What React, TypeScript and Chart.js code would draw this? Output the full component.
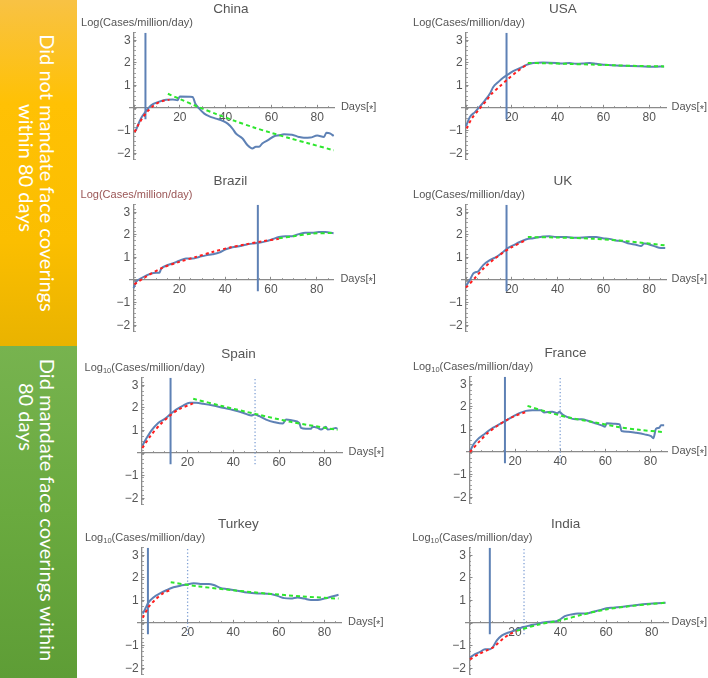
import React, { useEffect, useRef } from "react";
import { Chart, registerables } from "chart.js";

Chart.register(...registerables);

const FONT = "'Liberation Sans', Arial, Helvetica, sans-serif";
const BLUE = "#5E81B5";
const RED = "#FF1E1E";
const GREEN = "#2EE62E";
const DOTTED = "#7E9FD4";
const AXIS = "#8a8a8a";
const TEXT = "#555555";

const X_MIN = -1.7;
const X_MAX = 87.5;
const Y_MIN = -2.27;
const Y_MAX = 3.33;
const V_LINE_BOTTOM = -0.5;

// ---------- China ----------
const chinaDays = [0.7, 3.2, 4.9, 7.5, 10.4, 14, 17, 19, 20, 25.6, 26.8, 28.5, 30.7, 32.9, 35.8, 38.7, 40.9, 43, 44.5, 47.4, 49.6, 51.7, 53.2, 54.6, 56, 58.3, 61.2, 63.3, 65.5, 69, 72, 74.2, 77, 80, 83, 84, 85.8, 87.2];
const chinaVals = [-1.01, -0.43, -0.18, 0.12, 0.26, 0.37, 0.38, 0.34, 0.51, 0.49, 0.19, -0.03, -0.25, -0.37, -0.47, -0.57, -0.69, -0.91, -1.13, -1.35, -1.65, -1.79, -1.72, -1.72, -1.57, -1.43, -1.25, -1.21, -1.16, -1.18, -1.28, -1.32, -1.31, -1.22, -1.28, -1.09, -1.13, -1.24];
const chinaRedDays = [0.3, 2, 4, 6, 8, 10, 12.5, 15.5];
const chinaRedVals = [-1.06, -0.72, -0.4, -0.14, 0.06, 0.2, 0.31, 0.37];
const chinaGreenDays = [14.8, 20, 28, 36, 44, 52, 60, 68, 76, 87.2];
const chinaGreenVals = [0.63, 0.4, 0.05, -0.27, -0.57, -0.85, -1.1, -1.34, -1.56, -1.87];

// ---------- USA ----------
const usaDays = [0, 1.7, 3.9, 6.1, 8.3, 10.4, 11.9, 14.1, 16.2, 18.4, 20.6, 23.5, 26.4, 29.3, 33.6, 39.4, 42, 45.2, 48, 51, 54, 56.8, 61, 68.4, 75.7, 81.4, 86.5];
const usaVals = [-0.81, -0.4, -0.18, 0.07, 0.34, 0.63, 0.93, 1.15, 1.34, 1.49, 1.63, 1.76, 1.91, 1.99, 2.01, 1.99, 1.97, 1.99, 1.96, 1.97, 1.99, 1.96, 1.91, 1.87, 1.85, 1.82, 1.84];
const usaRedDays = [0.3, 2.5, 5.4, 9, 11.2, 14.8, 18.4, 22, 27.1];
const usaRedVals = [-0.91, -0.47, -0.1, 0.34, 0.63, 0.96, 1.29, 1.59, 1.96];
const usaGreenDays = [27, 35, 45, 55, 65, 75, 86.5];
const usaGreenVals = [1.99, 1.98, 1.95, 1.92, 1.89, 1.86, 1.84];

// ---------- Brazil ----------
const brazilDays = [0, 1.2, 3.3, 5.5, 7.7, 9.9, 11.3, 12, 14.2, 17.1, 20, 22.9, 25.8, 28.7, 31.6, 34.5, 37.4, 40.3, 43.2, 46.1, 49, 51.9, 54.8, 57.7, 60.6, 63.5, 66.4, 69.3, 72.2, 75, 78, 80.9, 83.8, 87.4];
const brazilVals = [-0.36, -0.07, 0.07, 0.19, 0.29, 0.32, 0.32, 0.48, 0.63, 0.73, 0.85, 0.95, 0.95, 1.02, 1.09, 1.14, 1.21, 1.36, 1.45, 1.49, 1.56, 1.61, 1.65, 1.71, 1.8, 1.9, 1.94, 1.94, 2.03, 2.09, 2.09, 2.12, 2.12, 2.07];
const brazilRedDays = [0.4, 5.5, 12.8, 20, 27.2, 34.5, 41.7, 49, 56.2, 63.5];
const brazilRedVals = [-0.19, 0.15, 0.55, 0.8, 1.02, 1.24, 1.43, 1.58, 1.71, 1.82];
const brazilGreenDays = [63.5, 70, 78, 87.4];
const brazilGreenVals = [1.85, 1.94, 2.05, 2.08];

// ---------- UK ----------
const ukDays = [0, 1.7, 3.2, 5.4, 7.5, 10.4, 13.3, 16.2, 18.4, 20.6, 23.5, 26.4, 29.3, 33.6, 36.5, 39.4, 43.8, 48.1, 53.9, 56.8, 59.7, 62.6, 65.5, 68.4, 71.3, 74.2, 76.4, 77.8, 81.4, 84.3, 87];
const ukVals = [-0.25, 0, 0.29, 0.39, 0.66, 0.88, 1.02, 1.24, 1.42, 1.53, 1.68, 1.8, 1.85, 1.93, 1.94, 1.9, 1.9, 1.87, 1.9, 1.9, 1.85, 1.82, 1.75, 1.71, 1.61, 1.56, 1.5, 1.61, 1.53, 1.43, 1.42];
const ukRedDays = [0, 4, 8, 12, 16, 20, 26.4];
const ukRedVals = [-0.34, 0.1, 0.55, 0.9, 1.2, 1.45, 1.78];
const ukGreenDays = [27, 40, 55, 70, 87];
const ukGreenVals = [1.9, 1.88, 1.83, 1.72, 1.53];

// ---------- Spain ----------
const spainDays = [0.3, 2.2, 4.3, 7.2, 10.1, 12.8, 15.2, 18.1, 21, 23.9, 26.8, 31.2, 35.5, 39.9, 44.2, 47.8, 49.3, 51.4, 54.3, 58, 61.6, 63, 65.9, 68.8, 69.6, 71.7, 73.9, 74.6, 76.8, 78.3, 80.4, 81.2, 83.3, 84.8, 85.5];
const spainVals = [0.33, 0.67, 1.0, 1.33, 1.51, 1.75, 1.93, 2.1, 2.22, 2.22, 2.18, 2.1, 2.0, 1.9, 1.78, 1.66, 1.7, 1.63, 1.48, 1.36, 1.3, 1.48, 1.44, 1.33, 1.11, 1.07, 1.07, 1.16, 1.11, 1.04, 1.16, 1.04, 1.07, 1.11, 1.07];
const spainRedDays = [0.3, 4, 8, 12, 16, 22.5];
const spainRedVals = [0.22, 0.78, 1.25, 1.62, 1.92, 2.2];
const spainGreenDays = [22.5, 35, 50, 65, 85.5];
const spainGreenVals = [2.4, 2.08, 1.72, 1.38, 1.02];

// ---------- France ----------
const franceDays = [0, 1.5, 3.6, 6.6, 9.5, 12.4, 15.6, 19, 21.9, 24.8, 27.7, 31.4, 32.8, 36.5, 38.7, 39.7, 40.9, 43.8, 46.7, 49.6, 52.6, 55.5, 58.4, 59.9, 60.6, 64.2, 66.4, 67.2, 70.1, 73.7, 77.4, 80.3, 81.3, 82.5, 83.9, 84.7, 86.1];
const franceVals = [0.03, 0.33, 0.58, 0.81, 1.03, 1.19, 1.37, 1.57, 1.72, 1.82, 1.85, 1.85, 1.75, 1.78, 1.72, 1.78, 1.67, 1.52, 1.45, 1.45, 1.37, 1.27, 1.18, 1.12, 1.27, 1.25, 1.22, 0.93, 0.9, 0.85, 0.78, 0.7, 0.61, 1.03, 1.07, 1.18, 1.18];
const franceRedDays = [0, 4, 8, 12, 16, 20, 25];
const franceRedVals = [0, 0.45, 0.85, 1.15, 1.4, 1.6, 1.78];
const franceGreenDays = [25.5, 35, 45, 55, 65, 75, 86.1];
const franceGreenVals = [2.04, 1.75, 1.5, 1.32, 1.12, 0.98, 0.88];

// ---------- Turkey ----------
const turkeyDays = [0.3, 1.3, 2.8, 5, 7.9, 10.9, 13.8, 16.8, 19.7, 22.6, 25.6, 29.3, 31.5, 34.4, 37.4, 41.8, 46.2, 50.6, 56.5, 59.4, 62.4, 65.3, 68.2, 71.2, 74.1, 77.1, 80, 82.9, 86.2];
const turkeyVals = [0.42, 0.6, 0.9, 1.13, 1.31, 1.46, 1.58, 1.65, 1.7, 1.76, 1.73, 1.73, 1.68, 1.55, 1.5, 1.43, 1.35, 1.31, 1.28, 1.2, 1.1, 1.08, 1.13, 1.08, 1.02, 1.02, 1.08, 1.16, 1.25];
const turkeyRedDays = [0.3, 3, 6, 9, 12.4];
const turkeyRedVals = [0.23, 0.72, 1.05, 1.3, 1.46];
const turkeyGreenDays = [12.6, 25, 40, 55, 70, 86.2];
const turkeyGreenVals = [1.8, 1.62, 1.45, 1.3, 1.18, 1.08];

// ---------- India ----------
const indiaDays = [0.3, 2.5, 4.7, 6.9, 9.1, 10.5, 12, 14.2, 16.4, 18.5, 21.5, 23.6, 26.6, 29.5, 32.4, 35.3, 38.2, 39.7, 41.9, 44.8, 47.7, 51.4, 54.3, 57.2, 60.1, 63.1, 67.4, 71.8, 76.2, 80.6, 86.1];
const indiaVals = [-1.53, -1.38, -1.28, -1.16, -1.16, -1.04, -0.78, -0.56, -0.45, -0.38, -0.26, -0.18, -0.11, -0.05, 0.02, 0.06, 0.08, 0.15, 0.3, 0.38, 0.42, 0.42, 0.5, 0.57, 0.65, 0.68, 0.72, 0.77, 0.83, 0.86, 0.9];
const indiaRedDays = [0.3, 4, 8, 10.5, 12, 15, 18, 20.7];
const indiaRedVals = [-1.61, -1.38, -1.2, -1.08, -0.95, -0.68, -0.48, -0.36];
const indiaGreenDays = [20.7, 30, 40, 50, 60, 70, 80, 86];
const indiaGreenVals = [-0.35, -0.08, 0.12, 0.38, 0.6, 0.74, 0.84, 0.9];

// vertical marker days (solid = first, dotted = second)
const solidDays = { China: 5, USA: 17.7, Brazil: 54.3, UK: 17.7, Spain: 12.6, France: 15.5, Turkey: 2.6, India: 9 };
const dottedDays = { Spain: 49.5, France: 40, Turkey: 20, India: 24 };

type PanelData = {
  name: string;
  days: number[];
  vals: number[];
  redDays: number[];
  redVals: number[];
  greenDays: number[];
  greenVals: number[];
  sub: boolean;
  labelColor: string;
};

const PANELS: PanelData[] = [
  { name: "China", days: chinaDays, vals: chinaVals, redDays: chinaRedDays, redVals: chinaRedVals, greenDays: chinaGreenDays, greenVals: chinaGreenVals, sub: false, labelColor: TEXT },
  { name: "USA", days: usaDays, vals: usaVals, redDays: usaRedDays, redVals: usaRedVals, greenDays: usaGreenDays, greenVals: usaGreenVals, sub: false, labelColor: TEXT },
  { name: "Brazil", days: brazilDays, vals: brazilVals, redDays: brazilRedDays, redVals: brazilRedVals, greenDays: brazilGreenDays, greenVals: brazilGreenVals, sub: false, labelColor: "#9a5656" },
  { name: "UK", days: ukDays, vals: ukVals, redDays: ukRedDays, redVals: ukRedVals, greenDays: ukGreenDays, greenVals: ukGreenVals, sub: false, labelColor: TEXT },
  { name: "Spain", days: spainDays, vals: spainVals, redDays: spainRedDays, redVals: spainRedVals, greenDays: spainGreenDays, greenVals: spainGreenVals, sub: true, labelColor: TEXT },
  { name: "France", days: franceDays, vals: franceVals, redDays: franceRedDays, redVals: franceRedVals, greenDays: franceGreenDays, greenVals: franceGreenVals, sub: true, labelColor: TEXT },
  { name: "Turkey", days: turkeyDays, vals: turkeyVals, redDays: turkeyRedDays, redVals: turkeyRedVals, greenDays: turkeyGreenDays, greenVals: turkeyGreenVals, sub: true, labelColor: TEXT },
  { name: "India", days: indiaDays, vals: indiaVals, redDays: indiaRedDays, redVals: indiaRedVals, greenDays: indiaGreenDays, greenVals: indiaGreenVals, sub: true, labelColor: TEXT },
];

// layout: pixel position of each panel's origin (day 0, value 0) and px per day
const ORIGINS: Record<string, [number, number, number]> = {
  China: [134, 108, 2.29],
  USA: [466, 108, 2.29],
  Brazil: [133.5, 280, 2.29],
  UK: [466, 280, 2.29],
  Spain: [141.7, 453, 2.29],
  France: [470, 452, 2.255],
  Turkey: [142, 623, 2.28],
  India: [469.3, 623, 2.28],
};

const PX_VAL = 22.6;
const CW = 330;
const CH = 170;
const PAGE_RIGHT = 707;

const zip = (xs: number[], ys: number[]) => xs.map((x, i) => ({ x, y: ys[i] }));

const panelText = {
  id: "panelText",
  afterDraw(chart: any, _args: any, opts: any) {
    const { ctx, chartArea } = chart;
    const xs = chart.scales.x;
    const ys = chart.scales.y;
    const x0 = xs.getPixelForValue(0);
    const y0 = ys.getPixelForValue(0);
    ctx.save();
    ctx.textBaseline = "middle";
    // title
    ctx.fillStyle = TEXT;
    ctx.font = `13.5px ${FONT}`;
    ctx.textAlign = "center";
    ctx.fillText(opts.title, xs.getPixelForValue(42.3), y0 - 99);
    // y label
    ctx.textAlign = "left";
    ctx.fillStyle = opts.labelColor;
    const big = `11px ${FONT}`;
    const small = `7.5px ${FONT}`;
    const parts: [string, string, number][] = opts.sub
      ? [["Log", big, 0], ["10", small, 3], ["(Cases/million/day)", big, 0]]
      : [["Log(Cases/million/day)", big, 0]];
    let total = 0;
    const widths = parts.map(([t, f]) => {
      ctx.font = f;
      const w = ctx.measureText(t).width;
      total += w;
      return w;
    });
    let x = x0 + 3 - total / 2;
    const yl = y0 - 85;
    parts.forEach(([t, f, dy], i) => {
      ctx.font = f;
      ctx.fillText(t, x, yl + dy);
      x += widths[i];
    });
    // x label: Days[*] with a centred asterisk
    ctx.fillStyle = TEXT;
    ctx.font = `11px ${FONT}`;
    const seq: [string, number][] = [["Days[", 0], ["*", 2.5], ["]", 0]];
    const dw = seq.reduce((s, [t]) => s + ctx.measureText(t).width, 0);
    let dx = Math.min(chartArea.right + 6.5, opts.limit - dw);
    const dy0 = y0 - 1;
    seq.forEach(([t, off]) => {
      ctx.fillText(t, dx, dy0 + off);
      dx += ctx.measureText(t).width;
    });
    ctx.restore();
  },
};

const fmt = (v: number) => (v < 0 ? "\u2212" + Math.abs(v) : String(v));

function Panel({ data }: { data: PanelData }) {
  const ref = useRef<HTMLCanvasElement | null>(null);
  const [ax, ay, pxDay] = ORIGINS[data.name];
  const L = Math.round(ax) - 62;
  const T = ay - 108;

  useEffect(() => {
    if (!ref.current) return;
    const padLeft = ax + X_MIN * pxDay - L;
    const padRight = CW - (ax + X_MAX * pxDay - L);
    const padTop = ay - Y_MAX * PX_VAL - T;
    const padBottom = CH - (ay - Y_MIN * PX_VAL - T);

    const datasets: any[] = [
      { data: zip(data.redDays, data.redVals), borderColor: RED, borderWidth: 2, borderDash: [3, 3], pointRadius: 0, tension: 0.3 },
      { data: zip(data.greenDays, data.greenVals), borderColor: GREEN, borderWidth: 2, borderDash: [4, 3], pointRadius: 0, tension: 0.3 },
      { data: zip(data.days, data.vals), borderColor: BLUE, borderWidth: 2, pointRadius: 0, cubicInterpolationMode: "monotone" },
      { data: [{ x: (solidDays as any)[data.name], y: V_LINE_BOTTOM }, { x: (solidDays as any)[data.name], y: Y_MAX }], borderColor: BLUE, borderWidth: 2, pointRadius: 0 },
    ];
    const dd = (dottedDays as any)[data.name];
    if (dd !== undefined) {
      datasets.push({ data: [{ x: dd, y: V_LINE_BOTTOM }, { x: dd, y: Y_MAX }], borderColor: DOTTED, borderWidth: 1.3, borderDash: [1.3, 2.2], pointRadius: 0 });
    }

    const tickFont = { family: FONT, size: 12 };
    const chart = new Chart(ref.current, {
      type: "line",
      data: { datasets },
      plugins: [panelText as any],
      options: {
        animation: false,
        responsive: false,
        events: [],
        layout: { padding: { left: padLeft, right: padRight, top: padTop, bottom: padBottom } },
        plugins: {
          legend: { display: false },
          tooltip: { enabled: false },
          title: { display: false },
          panelText: { title: data.name, sub: data.sub, labelColor: data.labelColor, limit: PAGE_RIGHT - L },
        } as any,
        scales: {
          x: {
            type: "linear",
            min: X_MIN,
            max: X_MAX,
            position: { y: 0 } as any,
            grid: { drawOnChartArea: false, drawTicks: true, tickLength: -3.5, tickColor: AXIS, tickWidth: 1 },
            border: { display: true, color: AXIS, width: 1.3 },
            ticks: {
              stepSize: 20,
              includeBounds: false,
              autoSkip: false,
              maxRotation: 0,
              padding: 5.5,
              color: TEXT,
              font: tickFont,
              callback: (v: any) => (Number(v) === 0 ? "" : fmt(Number(v))),
            },
          },
          xMinor: {
            type: "linear",
            axis: "x",
            min: X_MIN,
            max: X_MAX,
            position: { y: 0 } as any,
            grid: { drawOnChartArea: false, drawTicks: true, tickLength: -2, tickColor: AXIS, tickWidth: 0.8 },
            border: { display: false },
            ticks: { display: false, stepSize: 5, includeBounds: false, autoSkip: false },
          },
          y: {
            type: "linear",
            min: Y_MIN,
            max: Y_MAX,
            position: { x: 0 } as any,
            grid: { drawOnChartArea: false, drawTicks: true, tickLength: -3.5, tickColor: AXIS, tickWidth: 1 },
            border: { display: true, color: AXIS, width: 1.3 },
            ticks: {
              stepSize: 1,
              includeBounds: false,
              autoSkip: false,
              padding: 3,
              color: TEXT,
              font: tickFont,
              callback: (v: any) => (Number(v) === 0 ? "" : fmt(Number(v)) + " "),
            },
          },
          yMinor: {
            type: "linear",
            axis: "y",
            min: Y_MIN,
            max: Y_MAX,
            position: { x: 0 } as any,
            grid: { drawOnChartArea: false, drawTicks: true, tickLength: -2, tickColor: AXIS, tickWidth: 0.8 },
            border: { display: false },
            ticks: { display: false, stepSize: 0.2, includeBounds: false, autoSkip: false },
          },
        } as any,
      },
    } as any);
    return () => chart.destroy();
  }, []);

  return (
    <canvas
      ref={ref}
      width={CW}
      height={CH}
      style={{ position: "absolute", left: L, top: T, width: CW, height: CH }}
    />
  );
}

const bannerText: React.CSSProperties = {
  position: "absolute",
  color: "#ffffff",
  fontFamily: "Lato, 'Open Sans', sans-serif",
  fontSize: 20,
  whiteSpace: "nowrap",
  transform: "translate(-50%, -50%) rotate(90deg)",
  lineHeight: 1,
};

export default function App() {
  return (
    <div
      style={{
        position: "fixed",
        left: 0,
        top: 0,
        width: 708,
        height: 678,
        overflow: "hidden",
        background: "#ffffff",
      }}
    >
      <div
        style={{
          position: "absolute",
          left: 0,
          top: 0,
          width: 77,
          height: 346,
          background: "linear-gradient(to bottom, #F8C244 0%, #FFC104 30%, #FBBE00 70%, #E9B300 100%)",
        }}
      />
      <div
        style={{
          position: "absolute",
          left: 0,
          top: 346,
          width: 77,
          height: 332,
          background: "linear-gradient(to bottom, #77B34F 0%, #6AAA3F 50%, #5E9D36 100%)",
        }}
      />
      <div style={{ ...bannerText, left: 48, top: 173 }}>Did not mandate face coverings</div>
      <div style={{ ...bannerText, left: 27, top: 168 }}>within 80 days</div>
      <div style={{ ...bannerText, left: 48, top: 510 }}>Did mandate face coverings within</div>
      <div style={{ ...bannerText, left: 27, top: 417 }}>80 days</div>
      {PANELS.map((p) => (
        <Panel key={p.name} data={p} />
      ))}
    </div>
  );
}
